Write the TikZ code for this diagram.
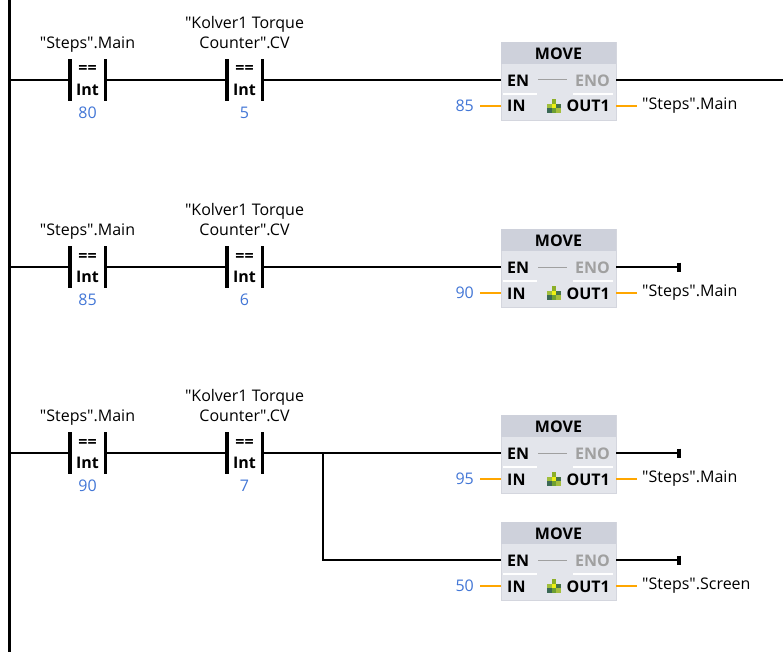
\documentclass[tikz,border=0pt]{standalone}
\usepackage{fontspec}
\setmainfont{Open Sans}
\usepackage{xcolor}
\usetikzlibrary{positioning}

\begin{document}
\begin{tikzpicture}[x=1pt,y=-1pt]
    % Colours of the ladder editor
    \definecolor{plcblue}{RGB}{66,118,214}
    \definecolor{plcorange}{RGB}{255,166,0}
    \definecolor{boxhead}{RGB}{206,209,219}
    \definecolor{boxbody}{RGB}{227,229,235}
    \definecolor{boxline}{RGB}{212,214,222}
    \definecolor{enogray}{RGB}{160,160,160}

    % Parameters
    \def\railx{9}       % x of the power rail
    \def\boxx{558.5}    % centre x of the MOVE boxes
    \def\wirew{2.5pt}   % rung wire width
    \def\q{\textquotedbl}

    \tikzset{
        rail/.style={line width=3pt},
        wire/.style={line width=\wirew},
        bar/.style={line width=3.4pt},
        sig/.style={plcorange, line width=2.4pt},
        contact/.style={minimum width=35pt, minimum height=41pt, inner sep=0pt},
        tagtxt/.style={font=\fontsize{16}{20}\selectfont, align=center, inner sep=0pt, text depth=0pt},
        optxt/.style={font=\fontsize{16}{18}\selectfont\bfseries, inner sep=0pt},
        valtxt/.style={font=\fontsize{16}{18}\selectfont, text=plcblue, inner sep=0pt},
        movebox/.style={rectangle, minimum width=115pt, minimum height=78pt, inner sep=0pt,
            fill=boxbody, draw=boxline, line width=0.8pt},
        pintxt/.style={font=\fontsize{16}{18}\selectfont\bfseries, inner sep=0pt},
    }

    % Compare contact: name, x, y, tag, value
    \newcommand{\eqcontact}[5]{
        \node[contact] (#1) at (#2,#3) {};
        \draw[bar] (#1.north west) -- (#1.south west);
        \draw[bar] (#1.north east) -- (#1.south east);
        \node[optxt, anchor=base] (#1-op) at (#2,#3-6) {==};
        \node[optxt, anchor=base] (#1-ty) at (#2,#3+15.5) {Int};
        \node[valtxt, anchor=base] (#1-val) at (#2,#3+38.5) {#5};
        \node[tagtxt, anchor=south] (#1-tag) at (#2,#3-31) {#4};
    }

    % MOVE box: name, y of EN, IN value, OUT1 variable
    \newcommand{\moveblock}[4]{
        \node[movebox] (#1) at (\boxx,#2+1) {};
        \fill[boxhead] ([shift={(0.4pt,-0.4pt)}]#1.north west)
            rectangle ([shift={(-0.4pt,-22pt)}]#1.north east);
        \node[pintxt, anchor=base] (#1-name) at (\boxx,#2-20.5) {MOVE};
        \coordinate (#1-en) at (501,#2);
        \coordinate (#1-eno) at (616,#2);
        \coordinate (#1-in) at (501,#2+26);
        \coordinate (#1-out) at (616,#2+26);
        % pin names
        \node[pintxt, anchor=base west] (#1-entxt) at (507,#2+6.5) {EN};
        \node[pintxt, anchor=base east, text=enogray] (#1-enotxt) at (610,#2+6.5) {ENO};
        \draw[enogray, line width=1pt] (538,#2) -- (567,#2);
        \draw[white, line width=1.6pt] (503,#2+14) -- (537,#2+14);
        \draw[white, line width=1.6pt] (573,#2+14) -- (613,#2+14);
        \node[pintxt, anchor=base west] (#1-intxt) at (507,#2+32) {IN};
        \node[pintxt, anchor=base east] (#1-outtxt) at (610,#2+32) {OUT1};
        % small move icon
        \foreach \cx/\cy/\cc in {0/-1/{rgb,255:red,140;green,175;blue,40},
                -1/0/{rgb,255:red,160;green,190;blue,60},
                0/0/{rgb,255:red,240;green,240;blue,20},
                1/0/{rgb,255:red,70;green,115;blue,75},
                -1/1/{rgb,255:red,60;green,105;blue,85},
                0/1/{rgb,255:red,110;green,160;blue,50},
                1/1/{rgb,255:red,165;green,190;blue,60}} {
            \fill[color=\cc] (554+4.6*\cx-2.3,#2+26+4.6*\cy-2.3) rectangle ++(4.6,4.6);
        }
        % input and output operands
        \node[valtxt, anchor=base east, inner xsep=6pt] (#1-inval) at (480,#2+31.5) {#3};
        \draw[sig] (480,#2+26) -- (#1-in);
        \draw[sig] (#1-out) -- ++(21,0) coordinate (#1-outend);
        \node[font=\fontsize{16}{18}\selectfont, anchor=west, inner xsep=5pt] (#1-outvar) at (#1-outend) {#4};
    }

    \useasboundingbox (0,0) rectangle (783,652);

    % Power rail
    \draw[rail] (\railx,0) -- (\railx,652);

    % Rung 1
    \coordinate (r1) at (\railx,80);
    \eqcontact{c1a}{87.5}{80}{\q Steps\q.Main}{80}
    \eqcontact{c1b}{244.5}{80}{\q Kolver1 Torque\\Counter\q.CV}{5}
    \moveblock{m1}{80}{85}{\q Steps\q.Main}
    \coordinate (r1end) at (783,80);
    \draw[wire] (r1) -- (c1a.west);
    \draw[wire] (c1a.east) -- (c1b.west);
    \draw[wire] (c1b.east) -- (m1-en);
    \draw[wire] (m1-eno) -- (r1end);

    % Rung 2
    \coordinate (r2) at (\railx,267);
    \eqcontact{c2a}{87.5}{267}{\q Steps\q.Main}{85}
    \eqcontact{c2b}{244.5}{267}{\q Kolver1 Torque\\Counter\q.CV}{6}
    \moveblock{m2}{267}{90}{\q Steps\q.Main}
    \coordinate (r2end) at (679,267);
    \draw[wire] (r2) -- (c2a.west);
    \draw[wire] (c2a.east) -- (c2b.west);
    \draw[wire] (c2b.east) -- (m2-en);
    \draw[wire] (m2-eno) -- (r2end);
    \draw[bar] ([yshift=4.5pt]r2end) -- ([yshift=-4.5pt]r2end);

    % Rung 3 with a parallel branch
    \coordinate (r3) at (\railx,453);
    \eqcontact{c3a}{87.5}{453}{\q Steps\q.Main}{90}
    \eqcontact{c3b}{244.5}{453}{\q Kolver1 Torque\\Counter\q.CV}{7}
    \moveblock{m3}{453}{95}{\q Steps\q.Main}
    \moveblock{m4}{560}{50}{\q Steps\q.Screen}
    \coordinate (b3) at (323,453);
    \coordinate (r3end) at (679,453);
    \coordinate (r4end) at (679,560);
    \draw[wire] (r3) -- (c3a.west);
    \draw[wire] (c3a.east) -- (c3b.west);
    \draw[wire] (c3b.east) -- (m3-en);
    \draw[wire] (b3) |- (m4-en);
    \draw[wire] (m3-eno) -- (r3end);
    \draw[wire] (m4-eno) -- (r4end);
    \draw[bar] ([yshift=4.5pt]r3end) -- ([yshift=-4.5pt]r3end);
    \draw[bar] ([yshift=4.5pt]r4end) -- ([yshift=-4.5pt]r4end);

\end{tikzpicture}
\end{document}
